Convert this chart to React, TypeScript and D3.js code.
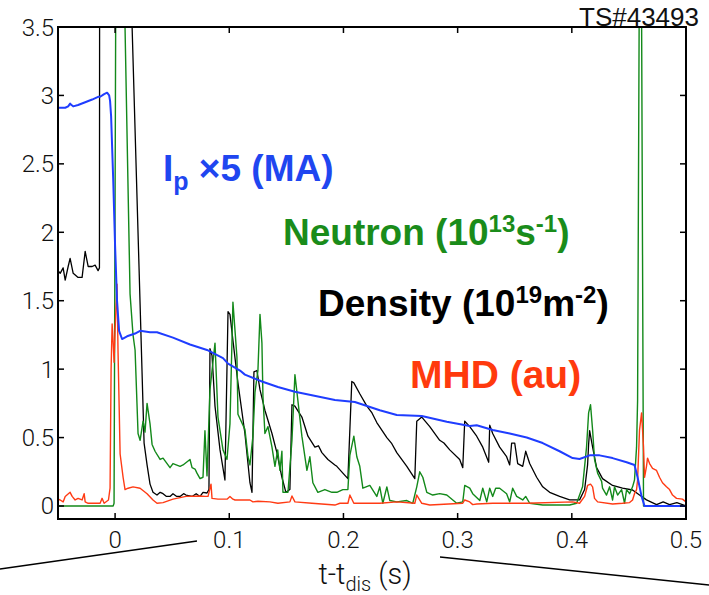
import React from "react";
import * as d3 from "d3";

// time in s (t - t_dis), values in chart units
const ipSeries: [number, number][] = [
  [-0.0499,2.91],[-0.0437,2.91],[-0.0411,2.92],[-0.0394,2.94],[-0.0367,2.92],[-0.0324,2.93],[-0.0262,2.95],
  [-0.0201,2.97],[-0.0149,2.99],[-0.0131,2.99],[-0.0096,3.01],[-0.0070,3.02],[-0.0052,3.0],[-0.0044,2.96],
  [-0.0035,2.85],[-0.0017,2.4],[0.0,1.9],[0.0017,1.5],[0.0035,1.28],[0.0061,1.22],[0.0105,1.24],[0.0175,1.26],
  [0.0219,1.28],[0.0306,1.27],[0.0367,1.27],[0.0507,1.23],[0.0656,1.18],[0.0805,1.14],[0.0945,1.08],[0.0989,1.04],
  [0.1094,0.99],[0.1137,0.96],[0.1286,0.91],[0.1426,0.87],[0.1575,0.835],[0.1724,0.81],[0.1925,0.775],[0.2100,0.76],
  [0.2318,0.70],[0.2467,0.665],[0.2686,0.657],[0.2905,0.616],[0.3106,0.585],[0.3167,0.59],[0.3307,0.555],[0.3456,0.53],
  [0.3605,0.50],[0.3745,0.46],[0.3893,0.40],[0.4007,0.35],[0.4068,0.343],[0.4156,0.37],[0.4243,0.37],[0.4357,0.35],
  [0.4480,0.32],[0.4549,0.30],[0.4576,0.21],[0.4611,0.07],[0.4637,0.0],[0.5,0.0]
];

const densitySeries: [number, number][] = [
  [-0.0499,1.72],[-0.0481,1.70],[-0.0455,1.74],[-0.0437,1.65],[-0.0411,1.75],[-0.0394,1.81],[-0.0367,1.70],
  [-0.0324,1.67],[-0.0289,1.67],[-0.0262,1.86],[-0.0236,1.75],[-0.0201,1.75],[-0.0175,1.76],[-0.0149,1.72],
  [-0.0137,1.74],[-0.0135,4.5],[0.012,4.5],[0.0149,3.5],[0.0254,0.46],[0.0280,0.30],[0.0306,0.16],[0.0332,0.10],
  [0.0367,0.08],[0.0395,0.1],[0.0420,0.09],[0.0450,0.07],[0.0481,0.07],[0.0507,0.09],[0.0540,0.07],[0.0569,0.07],
  [0.0600,0.09],[0.0621,0.08],[0.0674,0.07],[0.0710,0.09],[0.0744,0.07],[0.0770,0.1],[0.0805,0.095],[0.0822,0.12],
  [0.0831,1.15],[0.0849,1.10],[0.0875,0.73],[0.0919,0.41],[0.0962,0.19],[0.0989,1.42],[0.1006,1.40],[0.1032,1.21],
  [0.1076,0.90],[0.1137,0.53],[0.1181,0.17],[0.1199,0.10],[0.1216,0.98],[0.1242,0.99],[0.1269,0.85],[0.1312,0.70],
  [0.1374,0.53],[0.1417,0.39],[0.1461,0.21],[0.1496,0.10],[0.1531,0.12],[0.1549,0.74],[0.1575,0.73],[0.1636,0.65],
  [0.1689,0.51],[0.1750,0.43],[0.1781,0.44],[0.1811,0.39],[0.1864,0.34],[0.1925,0.30],[0.1942,0.29],[0.1995,0.24],
  [0.2039,0.20],[0.2073,0.91],[0.2091,0.90],[0.2143,0.82],[0.2205,0.73],[0.2250,0.68],[0.2292,0.61],[0.2380,0.50],
  [0.2420,0.46],[0.2467,0.39],[0.2555,0.29],[0.2625,0.20],[0.2642,0.62],[0.2686,0.65],[0.2756,0.58],[0.2843,0.48],
  [0.2880,0.46],[0.2931,0.41],[0.3018,0.34],[0.3045,0.28],[0.3062,0.62],[0.3106,0.58],[0.3167,0.51],[0.3220,0.43],
  [0.3272,0.32],[0.3281,0.59],[0.3307,0.53],[0.3368,0.43],[0.3429,0.36],[0.3456,0.30],[0.3473,0.46],[0.3500,0.46],
  [0.3526,0.31],[0.3570,0.29],[0.3596,0.40],[0.3631,0.31],[0.3692,0.21],[0.3745,0.14],[0.3806,0.10],[0.3893,0.07],
  [0.3981,0.045],[0.4068,0.045],[0.4112,0.12],[0.4138,0.30],[0.4147,0.45],[0.4156,0.55],[0.4182,0.43],[0.4217,0.28],
  [0.4269,0.20],[0.4357,0.15],[0.4444,0.13],[0.4532,0.117],[0.4593,0.08],[0.4654,0.045],[0.4742,0.01],[0.4800,0.03],
  [0.4856,0.01],[0.4920,0.025],[0.5,0.0]
];

const neutronSeries: [number, number][] = [
  [-0.0499,0.0],[-0.0017,0.0],[-0.0009,0.02],[0.0009,4.5],[0.0070,4.5],[0.0087,3.5],[0.0131,1.55],[0.0157,1.25],
  [0.0175,1.14],[0.0201,0.53],[0.0219,0.48],[0.0245,0.62],[0.0262,0.54],[0.0280,0.75],[0.0306,0.60],[0.0324,0.45],
  [0.0350,0.40],[0.0394,0.34],[0.0420,0.35],[0.0481,0.28],[0.0507,0.31],[0.0569,0.29],[0.0595,0.30],[0.0656,0.34],
  [0.0674,0.28],[0.0700,0.27],[0.0717,0.24],[0.0744,0.20],[0.0770,0.21],[0.0787,0.55],[0.0805,0.22],[0.0831,0.85],
  [0.0849,0.99],[0.0875,1.19],[0.0901,0.65],[0.0945,0.41],[0.0980,0.34],[0.1006,0.60],[0.1032,1.49],[0.1067,1.09],
  [0.1076,0.67],[0.1137,0.56],[0.1164,0.36],[0.1181,0.30],[0.1207,0.51],[0.1225,0.83],[0.1251,0.99],[0.1269,1.40],
  [0.1286,1.19],[0.1295,0.80],[0.1312,0.53],[0.1339,0.58],[0.1374,0.43],[0.1400,0.29],[0.1424,0.41],[0.1444,0.26],
  [0.1461,0.40],[0.1470,0.10],[0.1514,0.10],[0.1549,0.48],[0.1575,0.96],[0.1601,0.77],[0.1636,0.51],[0.1680,0.26],
  [0.1706,0.36],[0.1732,0.17],[0.1776,0.10],[0.1837,0.12],[0.1899,0.10],[0.1942,0.10],[0.1995,0.12],[0.2039,0.12],
  [0.2056,0.37],[0.2091,0.51],[0.2117,0.36],[0.2143,0.29],[0.2170,0.13],[0.2231,0.15],[0.2292,0.07],[0.2318,0.14],
  [0.2345,0.02],[0.2380,0.14],[0.2406,0.04],[0.2467,0.03],[0.2555,0.04],[0.2607,0.02],[0.2642,0.14],[0.2668,0.25],
  [0.2695,0.21],[0.2730,0.10],[0.2782,0.08],[0.2843,0.09],[0.2905,0.08],[0.2992,0.02],[0.3045,0.03],[0.3062,0.15],
  [0.3106,0.13],[0.3132,0.09],[0.3194,0.04],[0.3220,0.13],[0.3255,0.03],[0.3281,0.13],[0.3307,0.07],[0.3333,0.13],
  [0.3368,0.13],[0.3429,0.09],[0.3456,0.03],[0.3482,0.13],[0.3517,0.07],[0.3570,0.044],[0.3596,0.07],[0.3631,0.02],
  [0.3745,0.007],[0.3893,0.007],[0.3981,0.007],[0.4042,0.02],[0.4094,0.14],[0.4129,0.43],[0.4147,0.68],[0.4164,0.74],
  [0.4182,0.555],[0.4199,0.34],[0.4226,0.24],[0.4261,0.18],[0.4269,0.13],[0.4304,0.08],[0.4331,0.14],[0.4357,0.044],
  [0.4374,0.14],[0.4401,0.08],[0.4436,0.12],[0.4462,0.02],[0.4480,0.12],[0.4506,0.09],[0.4532,0.14],[0.4549,0.19],
  [0.4567,0.43],[0.4576,0.77],[0.4590,3.6],[0.4611,3.6],[0.4628,0.0],[0.5,0.0]
];

const mhdSeries: [number, number][] = [
  [-0.0499,0.05],[-0.0481,0.044],[-0.0455,0.03],[-0.0437,0.07],[-0.0394,0.10],[-0.0376,0.07],[-0.0350,0.044],
  [-0.0324,0.056],[-0.0289,0.044],[-0.0271,0.09],[-0.0262,0.03],[-0.0236,0.02],[-0.0131,0.02],[-0.0114,0.056],
  [-0.0096,0.02],[-0.0058,0.044],[-0.0044,0.13],[-0.0035,1.0],[-0.0026,1.33],[-0.0017,1.2],[-0.0009,1.05],[0.0,1.29],
  [0.0017,1.62],[0.0026,1.12],[0.0044,0.38],[0.0070,0.21],[0.0087,0.12],[0.0114,0.13],[0.0157,0.14],[0.0219,0.13],
  [0.0280,0.09],[0.0332,0.044],[0.0367,0.02],[0.0420,0.025],[0.0507,0.05],[0.0621,0.07],[0.0744,0.073],[0.0787,0.07],
  [0.0814,0.07],[0.0840,0.16],[0.0849,0.056],[0.0901,0.05],[0.0980,0.05],[0.1006,0.07],[0.1032,0.05],[0.1050,0.044],
  [0.1181,0.044],[0.1207,0.03],[0.1251,0.035],[0.1356,0.03],[0.1426,0.02],[0.1531,0.03],[0.1549,0.073],[0.1575,0.03],
  [0.1724,0.02],[0.1925,0.007],[0.1969,0.02],[0.2039,0.02],[0.2056,0.08],[0.2091,0.02],[0.2318,0.02],[0.2467,0.03],
  [0.2625,0.02],[0.2642,0.08],[0.2686,0.02],[0.2756,0.007],[0.3045,0.02],[0.3062,0.044],[0.3106,0.03],[0.3132,0.01],
  [0.3167,0.015],[0.3307,0.02],[0.3605,0.02],[0.4007,0.03],[0.4068,0.02],[0.4112,0.07],[0.4138,0.15],[0.4164,0.16],
  [0.4182,0.14],[0.4199,0.056],[0.4226,0.03],[0.4357,0.015],[0.4444,0.02],[0.4506,0.025],[0.4532,0.044],[0.4549,0.09],
  [0.4567,0.12],[0.4576,0.19],[0.4593,0.555],[0.4611,0.68],[0.4628,0.43],[0.4637,0.21],[0.4654,0.29],[0.4663,0.35],
  [0.4681,0.31],[0.4707,0.275],[0.4742,0.26],[0.4768,0.21],[0.4794,0.17],[0.4829,0.14],[0.4856,0.12],[0.4882,0.08],
  [0.4917,0.056],[0.4969,0.05],[0.5,0.03]
];

const xTicks = [0, 0.1, 0.2, 0.3, 0.4, 0.5];
const xTickLabels = ["0", "0.1", "0.2", "0.3", "0.4", "0.5"];
const yTicks = [0, 0.5, 1, 1.5, 2, 2.5, 3, 3.5];
const yTickLabels = ["0", "0.5", "1", "1.5", "2", "2.5", "3", "3.5"];

const W = 709, H = 595;
const L = 58, R = 686, T = 27, B = 519;

export default function App() {
  const x = d3.scaleLinear().domain([-0.05, 0.5]).range([L, R]);
  const y = d3.scaleLinear().domain([-0.095, 3.5]).range([B, T]);
  const line = d3.line<[number, number]>().x(d => x(d[0])).y(d => y(d[1]));
  const tickFont = "Roboto, 'Liberation Sans', sans-serif";
  const boldFont = "'Liberation Sans', Arial, sans-serif";
  return (
    <svg width={W} height={H} style={{ position: "absolute", left: 0, top: 0, background: "#fff" }}>
      <defs>
        <clipPath id="plot"><rect x={L} y={T} width={R - L} height={B - T} /></clipPath>
      </defs>
      <rect x={0} y={0} width={W} height={H} fill="#fff" />
      <g clipPath="url(#plot)" fill="none" strokeLinejoin="round">
        <path d={line(densitySeries) || ""} stroke="#000" strokeWidth={1.3} />
        <path d={line(neutronSeries) || ""} stroke="#13891a" strokeWidth={1.4} />
        <path d={line(mhdSeries) || ""} stroke="#ff3b14" strokeWidth={1.4} />
        <path d={line(ipSeries) || ""} stroke="#1f3dff" strokeWidth={2} />
      </g>
      <rect x={L} y={T} width={R - L} height={B - T} fill="none" stroke="#000" strokeWidth={2} />
      {yTicks.map((t, i) => (
        <g key={"y" + i}>
          <line x1={L} x2={L + 6} y1={y(t)} y2={y(t)} stroke="#000" strokeWidth={1.5} />
          <line x1={R - 6} x2={R} y1={y(t)} y2={y(t)} stroke="#000" strokeWidth={1.5} />
          <text x={L - 4} y={y(t) + 8.5} textAnchor="end" fontFamily={tickFont} fontWeight={300} fontSize={24} fill="#111">{yTickLabels[i]}</text>
        </g>
      ))}
      {xTicks.map((t, i) => (
        <g key={"x" + i}>
          <line x1={x(t)} x2={x(t)} y1={B} y2={B - 6} stroke="#000" strokeWidth={1.5} />
          <line x1={x(t)} x2={x(t)} y1={T} y2={T + 6} stroke="#000" strokeWidth={1.5} />
          <text x={x(t)} y={548} textAnchor="middle" fontFamily={tickFont} fontWeight={300} fontSize={24} fill="#111">{xTickLabels[i]}</text>
        </g>
      ))}
      <text x={699} y={26} textAnchor="end" fontFamily={boldFont} fontSize={26} fill="#111">TS#43493</text>
      <text x={365} y={584} textAnchor="middle" fontFamily={tickFont} fontWeight={300} fontSize={29} fill="#111">
        t-t<tspan fontSize={20} dy={7}>dis</tspan><tspan dy={-7}> (s)</tspan>
      </text>
      <line x1={0} y1={569} x2={197} y2={541} stroke="#000" strokeWidth={1.5} />
      <line x1={440} y1={557} x2={709} y2={585} stroke="#000" strokeWidth={1.5} />
      <text x={163} y={181} fontFamily={boldFont} fontWeight="bold" fontSize={37} fill="#1f46f0">
        I<tspan fontSize={25} dy={9}>p</tspan><tspan dy={-9}> ×5 (MA)</tspan>
      </text>
      <text x={283} y={245} fontFamily={boldFont} fontWeight="bold" fontSize={37} fill="#1a8c1a">
        Neutron (10<tspan fontSize={24} dy={-13}>13</tspan><tspan dy={13}>s</tspan><tspan fontSize={24} dy={-13}>-1</tspan><tspan dy={13}>)</tspan>
      </text>
      <text x={318} y={316} fontFamily={boldFont} fontWeight="bold" fontSize={37} fill="#000">
        Density (10<tspan fontSize={24} dy={-13}>19</tspan><tspan dy={13}>m</tspan><tspan fontSize={24} dy={-13}>-2</tspan><tspan dy={13}>)</tspan>
      </text>
      <text x={410} y={388} fontFamily={boldFont} fontWeight="bold" fontSize={39} fill="#ff3a0d">MHD (au)</text>
    </svg>
  );
}
